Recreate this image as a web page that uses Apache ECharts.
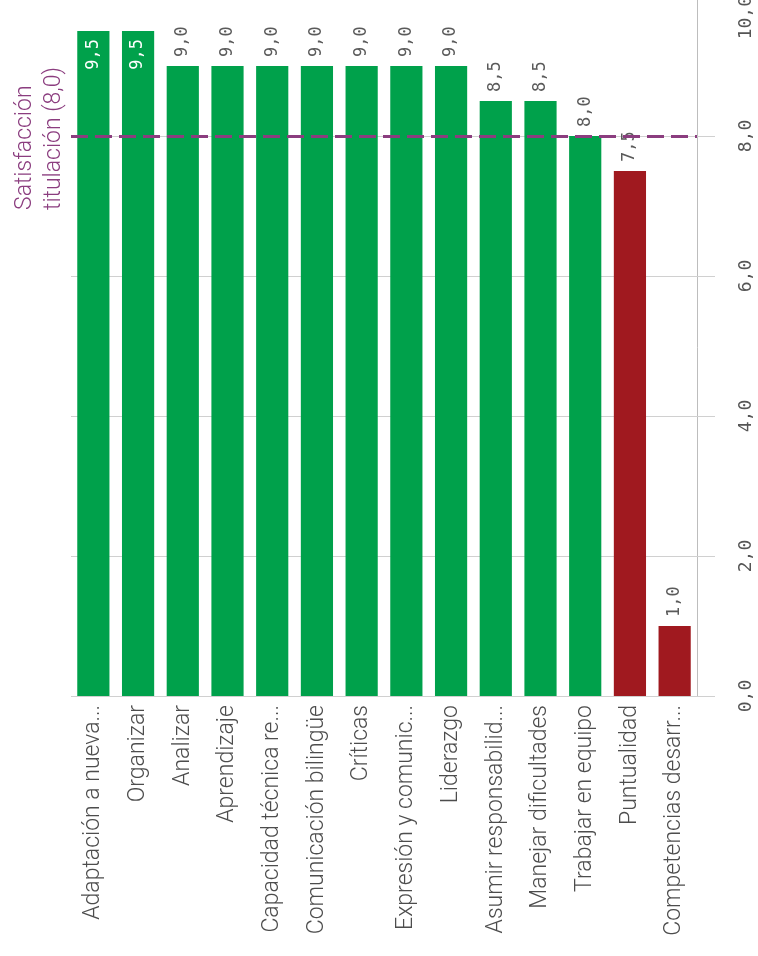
<!DOCTYPE html>
<html>
<head>
<meta charset="utf-8">
<script src="https://cdn.jsdelivr.net/npm/echarts@6/dist/echarts.min.js"></script>
<style>
html,body{margin:0;padding:0;background:#fff;}
#chart{width:758px;height:956px;}
</style>
</head>
<body>
<div id="chart"></div>
<script>
const categories = [
  "Adaptación a nueva...",
  "Organizar",
  "Analizar",
  "Aprendizaje",
  "Capacidad técnica re...",
  "Comunicación bilingüe",
  "Críticas",
  "Expresión y comunic...",
  "Liderazgo",
  "Asumir responsabilid...",
  "Manejar dificultades",
  "Trabajar en equipo",
  "Puntualidad",
  "Competencias desarr..."
];
const values = [9.5, 9.5, 9.0, 9.0, 9.0, 9.0, 9.0, 9.0, 9.0, 8.5, 8.5, 8.0, 7.5, 1.0];
const targetValue = 8.0;
const targetLabel = "Satisfacción\ntitulación (8,0)";
const valueTicks = [0, 2, 4, 6, 8, 10];

const GREEN = '#00a14b';
const RED = '#a0191f';
const PURPLE = '#8b3d7f';
const fmt = v => Number(v).toFixed(1).replace('.', ',');

const chart = echarts.init(document.getElementById('chart'), null, {renderer: 'canvas'});

const seriesData = values.map(v => {
  const inside = v > 9.2;
  return {
    value: v,
    itemStyle: {color: v >= targetValue ? GREEN : RED},
    label: inside ? {
      position: 'insideTop', align: 'right', verticalAlign: 'middle',
      color: '#ffffff', distance: 8
    } : {
      position: 'top', align: 'left', verticalAlign: 'middle',
      color: '#5a5a5a', distance: 9
    }
  };
});

chart.setOption({
  animation: false,
  backgroundColor: '#ffffff',
  grid: {left: 71, right: 61, top: -4, bottom: 260, containLabel: false, outerBoundsMode: 'none'},
  xAxis: {
    type: 'category',
    data: categories,
    axisLine: {show: false},
    axisTick: {show: false},
    axisLabel: {
      rotate: 90, margin: 9, interval: 0,
      color: '#4d4d4d', fontSize: 23, fontFamily: 'Roboto', fontWeight: 300
    }
  },
  yAxis: {
    type: 'value',
    position: 'right',
    min: valueTicks[0], max: valueTicks[valueTicks.length - 1], interval: 2,
    axisLine: {show: true, lineStyle: {color: '#bdbdbd', width: 1}},
    axisTick: {show: true, inside: false, length: 18, lineStyle: {color: '#d0d0d0'}},
    splitLine: {show: true, lineStyle: {color: '#d0d0d0', width: 1}},
    axisLabel: {
      rotate: 90, margin: 40, alignMaxLabel: 'right',
      color: '#555', fontSize: 18, fontFamily: 'DejaVu Sans Mono',
      formatter: v => fmt(v)
    }
  },
  series: [{
    type: 'bar',
    data: seriesData,
    barCategoryGap: '28%',
    label: {
      show: true, rotate: 90, fontSize: 17, fontFamily: 'DejaVu Sans Mono',
      formatter: p => fmt(p.value)
    },
    markLine: {
      silent: true,
      symbol: ['none', 'none'],
      label: {show: false},
      lineStyle: {color: PURPLE, type: [17, 7], width: 3},
      data: [{yAxis: targetValue}]
    },
    z: 2
  }]
});

const py = chart.convertToPixel({yAxisIndex: 0}, targetValue);
chart.setOption({
  graphic: [{
    type: 'text',
    x: 40, y: py + 74,
    rotation: Math.PI / 2,
    style: {
      text: targetLabel,
      fill: PURPLE,
      fontSize: 23, fontFamily: 'Roboto', fontWeight: 300,
      lineHeight: 29,
      align: 'left', verticalAlign: 'middle'
    }
  }]
});
</script>
</body>
</html>
